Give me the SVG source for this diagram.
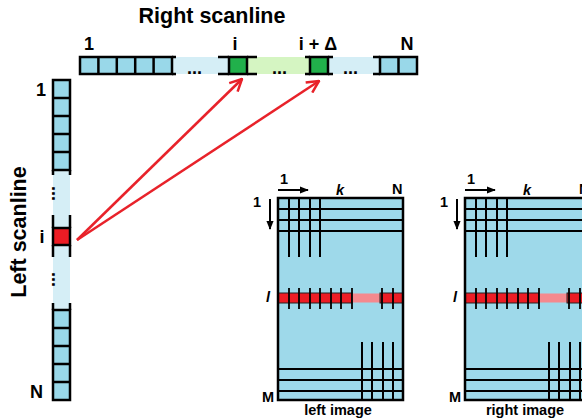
<svg xmlns="http://www.w3.org/2000/svg" xmlns:xlink="http://www.w3.org/1999/xlink" width="582" height="420" viewBox="0 0 582 420">
  <style>
    text { font-family: "Liberation Sans", Arial, sans-serif; font-weight: bold; fill: #000; }
    .title { font-size: 21.5px; }
    .lbl { font-size: 18px; }
    .mlbl { font-size: 14.5px; }
    .cap { font-size: 14.5px; text-anchor: middle; }
    .dots { font-size: 18px; }
    .cell { fill: #99d8e9; stroke: #000; stroke-width: 2.5; }
    .grn { fill: #21b04b; stroke: #000; stroke-width: 2.5; }
    .redc { fill: #ec1c24; stroke: #000; stroke-width: 2.5; }
    .edge { stroke: #000; stroke-width: 2.5; fill: none; }
    .lb { fill: #d5eef6; }
    .lg { fill: #d5f5c2; }
    .grid { stroke: #000; stroke-width: 2; fill: none; }
    .tick { stroke: #000; stroke-width: 1.8; }
    .ptr { stroke: #e8222a; stroke-width: 2.5; fill: none; }
    .ax { stroke: #000; stroke-width: 2; }
  </style>
  <defs>
    <marker id="open" viewBox="0 0 14 14" refX="13" refY="7" markerWidth="14" markerHeight="14" markerUnits="userSpaceOnUse" orient="auto">
      <path d="M1,1 L13,7 L1,13" fill="none" stroke="#e8222a" stroke-width="2.5"/>
    </marker>
    <marker id="solid" viewBox="0 0 10 10" refX="9" refY="5" markerWidth="9" markerHeight="9" markerUnits="userSpaceOnUse" orient="auto">
      <path d="M0,1 L10,5 L0,9 Z" fill="#000"/>
    </marker>
    <!-- image grid: pixel rows/columns, with the highlighted row l -->
    <g id="imgGrid">
      <rect x="278" y="198" width="125" height="202" fill="#9ed9ea"/>
      <path class="grid" d="M278,209H403M278,220H403M278,231H403M289,198V257M299,198V257M310,198V257M320,198V257"/>
      <path class="grid" d="M278,369H403M278,380H403M278,391H403M362,342V400M372,342V400M383,342V400M393,342V400"/>
      <rect x="278" y="293" width="74" height="10" fill="#ec1c24" stroke="#222" stroke-width="1"/>
      <rect x="352" y="293.5" width="28" height="9" fill="#f4898e"/>
      <rect x="380" y="293" width="23" height="10" fill="#ec1c24" stroke="#222" stroke-width="1"/>
      <path class="tick" d="M289,288V309M299,288V309M310,288V309M320,288V309M331,288V309M341,288V309M352,288V309M382,288V309M393,288V309"/>
      <rect x="278" y="198" width="125" height="202" fill="none" stroke="#000" stroke-width="2.5"/>
      <line class="ax" x1="278" y1="190" x2="308" y2="190" marker-end="url(#solid)"/>
      <line class="ax" x1="270" y1="199" x2="270" y2="229" marker-end="url(#solid)"/>
      <text class="mlbl" x="280" y="184">1</text>
      <text class="mlbl" x="336" y="195" font-style="italic">k</text>
      <text class="mlbl" x="392" y="194">N</text>
      <text class="mlbl" x="253" y="207">1</text>
      <text class="mlbl" x="266" y="302" font-style="italic">l</text>
      <text class="mlbl" x="262" y="402">M</text>
    </g>
  </defs>

  <!-- headings -->
  <g id="title-right">
    <text class="title" x="212" y="23" text-anchor="middle">Right scanline</text>
  </g>
  <g id="title-left">
    <text class="title" transform="translate(26,232) rotate(-90)" text-anchor="middle">Left scanline</text>
  </g>

  <!-- right scanline (horizontal) -->
  <g id="right-scanline">
    <rect class="lb" x="172" y="57" width="57" height="17"/>
    <rect class="lg" x="247" y="57" width="63" height="17"/>
    <rect class="lb" x="328" y="57" width="52" height="17"/>
    <rect class="cell" x="80" y="57" width="92" height="17"/>
    <path class="edge" d="M98.4,57V74M116.8,57V74M135.2,57V74M153.6,57V74M172,57H176M172,74H176"/>
    <rect class="grn" x="229" y="57" width="18" height="17"/>
    <path class="edge" d="M218,57H229M218,74H229M247,57H257M247,74H257"/>
    <rect class="grn" x="310" y="57" width="18" height="17"/>
    <path class="edge" d="M305,57H310M305,74H310M328,57H333M328,74H333"/>
    <rect class="cell" x="380" y="57" width="37" height="17"/>
    <path class="edge" d="M398.5,57V74M373,57H380M373,74H380"/>
    <text class="dots" x="187" y="74">...</text>
    <text class="dots" x="272" y="74">...</text>
    <text class="dots" x="343" y="74">...</text>
    <text class="lbl" x="84" y="50">1</text>
    <text class="lbl" x="235" y="50" text-anchor="middle">i</text>
    <text class="lbl" x="318" y="50" text-anchor="middle">i + Δ</text>
    <text class="lbl" x="407" y="50" text-anchor="middle">N</text>
  </g>

  <!-- left scanline (vertical) -->
  <g id="left-scanline">
    <rect class="lb" x="53" y="170" width="17" height="58"/>
    <rect class="lb" x="53" y="245" width="17" height="65"/>
    <rect class="cell" x="53" y="80" width="17" height="90"/>
    <path class="edge" d="M53,98H70M53,116H70M53,134H70M53,152H70M53,170V175M70,170V175"/>
    <rect class="redc" x="53" y="228" width="17" height="17"/>
    <path class="edge" d="M53,215V228M70,215V228M53,245V257M70,245V257"/>
    <rect class="cell" x="53" y="310" width="17" height="90"/>
    <path class="edge" d="M53,328H70M53,346H70M53,364H70M53,382H70M53,303V310M70,303V310"/>
    <text class="dots" transform="translate(52,186) rotate(90)">...</text>
    <text class="dots" transform="translate(52,272) rotate(90)">...</text>
    <text class="lbl" x="36" y="96">1</text>
    <text class="lbl" x="42" y="243" text-anchor="middle">i</text>
    <text class="lbl" x="30" y="398">N</text>
  </g>

  <!-- correspondence connectors -->
  <g id="connectors">
    <line class="ptr" x1="77" y1="240" x2="242" y2="79" marker-end="url(#open)"/>
    <line class="ptr" x1="77" y1="240" x2="319" y2="81" marker-end="url(#open)"/>
  </g>

  <!-- image grids -->
  <g id="left-image">
    <use xlink:href="#imgGrid"/>
    <text class="cap" x="338" y="415">left image</text>
  </g>
  <g id="right-image">
    <use xlink:href="#imgGrid" transform="translate(187,0)"/>
    <text class="cap" x="525" y="415">right image</text>
  </g>
</svg>
